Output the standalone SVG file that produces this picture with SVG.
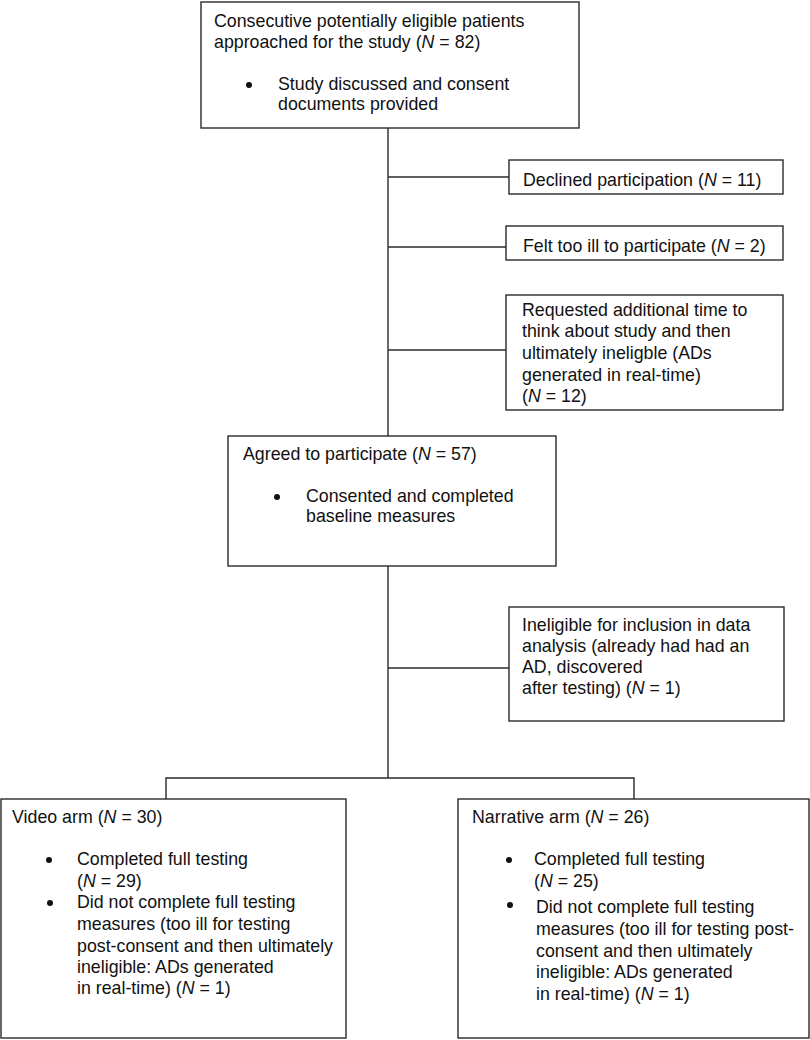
<svg xmlns="http://www.w3.org/2000/svg" width="810" height="1040" viewBox="0 0 810 1040">
<style>
rect{fill:#fff;stroke:#2a2a2a;stroke-width:1.4}
text{font-family:"Liberation Sans",Arial,sans-serif;font-size:17.8px;fill:#111}
.i{font-style:italic}
.c line,.c path{stroke:#2a2a2a;stroke-width:1.4;fill:none}
circle{fill:#111}
</style>
<rect width="810" height="1040" style="fill:#fff;stroke:none"/>
<g class="c" id="connectors">
<line x1="388" y1="128" x2="388" y2="436"/>
<line x1="388" y1="177" x2="509" y2="177"/>
<line x1="388" y1="247" x2="506" y2="247"/>
<line x1="388" y1="350" x2="506" y2="350"/>
<line x1="388" y1="566" x2="388" y2="778"/>
<line x1="388" y1="668" x2="509" y2="668"/>
<path d="M166 799 V778 H634 V799"/>
</g>
<g id="n1">
<rect x="201" y="2" width="378" height="126"/>
<text x="214" y="27">Consecutive potentially eligible patients</text>
<text x="214" y="48">approached for the study (<tspan class="i">N</tspan> = 82)</text>
<circle cx="249" cy="85" r="3"/>
<text x="278" y="90">Study discussed and consent</text>
<text x="278" y="110">documents provided</text>
</g>
<g id="n2">
<rect x="509" y="160" width="274" height="34"/>
<text x="523" y="186">Declined participation (<tspan class="i">N</tspan> = 11)</text>
</g>
<g id="n3">
<rect x="506" y="226" width="277" height="34"/>
<text x="523" y="252">Felt too ill to participate (<tspan class="i">N</tspan> = 2)</text>
</g>
<g id="n4">
<rect x="506" y="295" width="277" height="115"/>
<text x="522" y="316">Requested additional time to</text>
<text x="522" y="337">think about study and then</text>
<text x="522" y="359">ultimately ineligble (ADs</text>
<text x="522" y="381">generated in real-time)</text>
<text x="522" y="402">(<tspan class="i">N</tspan> = 12)</text>
</g>
<g id="n5">
<rect x="228" y="436" width="328" height="130"/>
<text x="243" y="460">Agreed to participate (<tspan class="i">N</tspan> = 57)</text>
<circle cx="277" cy="497" r="3"/>
<text x="306" y="502">Consented and completed</text>
<text x="306" y="522">baseline measures</text>
</g>
<g id="n6">
<rect x="509" y="607" width="275" height="114"/>
<text x="522" y="631">Ineligible for inclusion in data</text>
<text x="522" y="652">analysis (already had had an</text>
<text x="522" y="673">AD, discovered</text>
<text x="522" y="694">after testing) (<tspan class="i">N</tspan> = 1)</text>
</g>
<g id="n7">
<rect x="1" y="799" width="345" height="239"/>
<text x="12" y="823">Video arm (<tspan class="i">N</tspan> = 30)</text>
<circle cx="49" cy="860" r="3"/>
<text x="77" y="865">Completed full testing</text>
<text x="77" y="887">(<tspan class="i">N</tspan> = 29)</text>
<circle cx="50" cy="903" r="3"/>
<text x="77" y="908">Did not complete full testing</text>
<text x="77" y="930">measures (too ill for testing</text>
<text x="77" y="952">post-consent and then ultimately</text>
<text x="77" y="973">ineligible: ADs generated</text>
<text x="77" y="994">in real-time) (<tspan class="i">N</tspan> = 1)</text>
</g>
<g id="n8">
<rect x="458" y="799" width="351" height="239"/>
<text x="472" y="823">Narrative arm (<tspan class="i">N</tspan> = 26)</text>
<circle cx="509" cy="860" r="3"/>
<text x="534" y="865">Completed full testing</text>
<text x="534" y="887">(<tspan class="i">N</tspan> = 25)</text>
<circle cx="510" cy="905" r="3"/>
<text x="536" y="913">Did not complete full testing</text>
<text x="536" y="935">measures (too ill for testing post-</text>
<text x="536" y="957">consent and then ultimately</text>
<text x="536" y="978">ineligible: ADs generated</text>
<text x="536" y="1000">in real-time) (<tspan class="i">N</tspan> = 1)</text>
</g>
</svg>
